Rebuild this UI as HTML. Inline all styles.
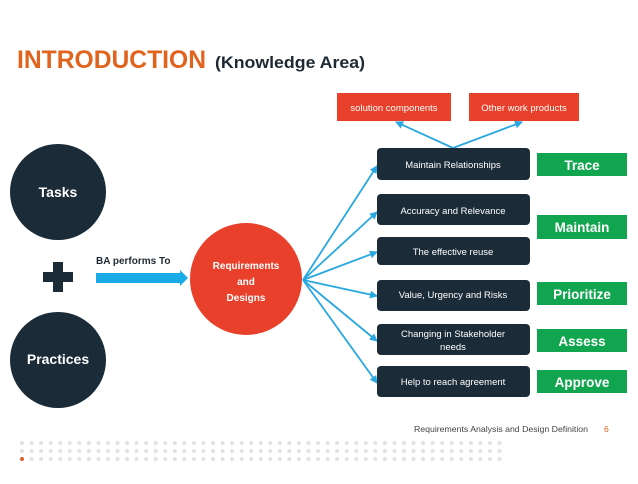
<!DOCTYPE html>
<html><head><style>
body{margin:0;width:638px;height:479px;background:#fff;overflow:hidden;font-family:"Liberation Sans",Arial,sans-serif}
</style></head><body>
<svg width="638" height="479" viewBox="0 0 638 479" xmlns="http://www.w3.org/2000/svg" font-family="Liberation Sans, Arial, sans-serif">
<defs>
<marker id="a" markerWidth="8" markerHeight="8" refX="7" refY="4" orient="auto" markerUnits="userSpaceOnUse"><path d="M0,0 L8,4 L0,8 Z" fill="#29a8e0"/></marker>
</defs>
<text x="17" y="68" font-size="25" font-weight="bold" fill="#e0641e" textLength="189" lengthAdjust="spacingAndGlyphs">INTRODUCTION</text>
<text x="215" y="68" font-size="17" font-weight="bold" fill="#1e2a33" textLength="150" lengthAdjust="spacingAndGlyphs">(Knowledge Area)</text>

<circle cx="58" cy="192" r="48" fill="#1b2b38"/>
<text x="58" y="197" font-size="14" font-weight="bold" fill="#fff" text-anchor="middle">Tasks</text>
<circle cx="58" cy="360" r="48" fill="#1b2b38"/>
<text x="58" y="364" font-size="14" font-weight="bold" fill="#fff" text-anchor="middle">Practices</text>
<rect x="43" y="272" width="30" height="10" fill="#1b2b38"/>
<rect x="53" y="262" width="10" height="30" fill="#1b2b38"/>

<text x="96" y="264" font-size="10" font-weight="bold" fill="#1e2a33">BA performs To</text>
<path d="M96,273 L180,273 L180,270 L188,278 L180,286 L180,283 L96,283 Z" fill="#1aabe6"/>

<circle cx="246" cy="279" r="56" fill="#e8402a"/>
<text x="246" y="269" font-size="10" font-weight="bold" fill="#fff" text-anchor="middle">Requirements</text>
<text x="246" y="285" font-size="10" font-weight="bold" fill="#fff" text-anchor="middle">and</text>
<text x="246" y="301" font-size="10" font-weight="bold" fill="#fff" text-anchor="middle">Designs</text>

<g stroke="#29a8e0" stroke-width="1.8" fill="none" marker-end="url(#a)">
<line x1="303" y1="280" x2="377" y2="166"/>
<line x1="303" y1="280" x2="377" y2="212"/>
<line x1="303" y1="280" x2="377" y2="252"/>
<line x1="303" y1="280" x2="377" y2="296"/>
<line x1="303" y1="280" x2="377" y2="341"/>
<line x1="303" y1="280" x2="377" y2="383"/>
<line x1="453" y1="148" x2="396" y2="122"/>
<line x1="453" y1="148" x2="522" y2="122"/>
</g>

<rect x="337" y="93" width="114" height="28" fill="#e8402a"/>
<text x="394" y="111" font-size="9.5" fill="#fff" text-anchor="middle">solution components</text>
<rect x="469" y="93" width="110" height="28" fill="#e8402a"/>
<text x="524" y="111" font-size="9.5" fill="#fff" text-anchor="middle">Other work products</text>

<g fill="#1b2b38">
<rect x="377" y="148" width="153" height="32" rx="4"/>
<rect x="377" y="194" width="153" height="31" rx="4"/>
<rect x="377" y="237" width="153" height="28" rx="4"/>
<rect x="377" y="280" width="153" height="31" rx="4"/>
<rect x="377" y="324" width="153" height="31" rx="4"/>
<rect x="377" y="366" width="153" height="31" rx="4"/>
</g>
<g font-size="9.5" fill="#fff" text-anchor="middle">
<text x="453" y="168">Maintain Relationships</text>
<text x="453" y="214">Accuracy and Relevance</text>
<text x="453" y="255">The effective reuse</text>
<text x="453" y="298">Value, Urgency and Risks</text>
<text x="453" y="337">Changing in Stakeholder</text>
<text x="453" y="350">needs</text>
<text x="453" y="385">Help to reach agreement</text>
</g>
<g fill="#12a54f">
<rect x="537" y="153" width="90" height="23"/>
<rect x="537" y="215" width="90" height="24"/>
<rect x="537" y="282" width="90" height="23"/>
<rect x="537" y="329" width="90" height="23"/>
<rect x="537" y="370" width="90" height="23"/>
</g>
<g font-size="13.5" font-weight="bold" fill="#fff" text-anchor="middle">
<text x="582" y="170">Trace</text>
<text x="582" y="232">Maintain</text>
<text x="582" y="299">Prioritize</text>
<text x="582" y="346">Assess</text>
<text x="582" y="387">Approve</text>
</g>

<text x="588" y="432" font-size="8.5" fill="#444" text-anchor="end" textLength="174" lengthAdjust="spacingAndGlyphs">Requirements Analysis and Design Definition</text>
<text x="604" y="432" font-size="8.5" fill="#e0641e">6</text>
<g fill="#e2e2e2" id="dots"></g>
</svg>
<script>
var g=document.getElementById('dots'),ns='http://www.w3.org/2000/svg';
for(var r=0;r<3;r++)for(var i=0;i<51;i++){var c=document.createElementNS(ns,'circle');c.setAttribute('cx',22+i*9.55);c.setAttribute('cy',443+r*8);c.setAttribute('r',2);if(r==2&&i==0)c.setAttribute('fill','#d9622b');g.appendChild(c);}
</script>
</body></html>
